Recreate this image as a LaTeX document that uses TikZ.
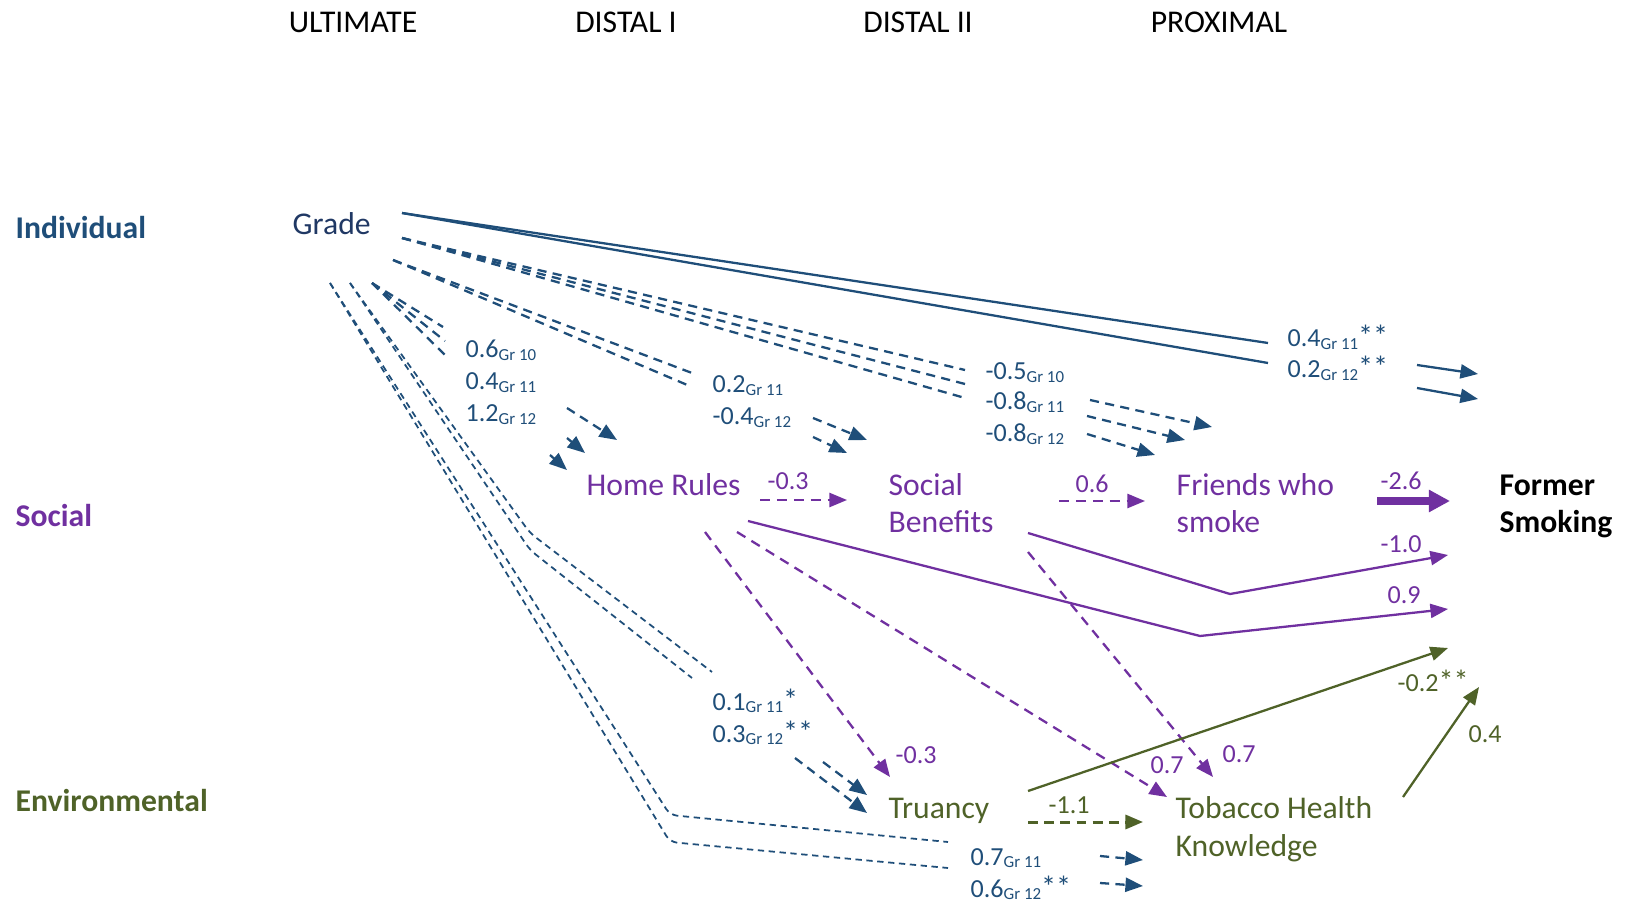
\documentclass[tikz,border=0pt]{standalone}
\usepackage{fontspec}
\setmainfont{Carlito}
\usetikzlibrary{arrows.meta}
\definecolor{indblue}{HTML}{1F4E79}
\definecolor{gradeblue}{HTML}{203864}
\definecolor{socpurple}{HTML}{7030A0}
\definecolor{envgreen}{HTML}{4F6228}
\begin{document}
\begin{tikzpicture}[x=0.01cm,y=-0.01cm,
	head/.style={anchor=base,inner sep=0pt,font=\fontsize{9}{11}\selectfont},
	row/.style={anchor=base west,inner sep=0pt,font=\fontsize{9}{11}\selectfont\bfseries},
	var/.style={anchor=base west,inner sep=0pt,align=left,font=\fontsize{9}{10.8}\selectfont},
	coef/.style={anchor=base west,inner sep=0pt,font=\fontsize{7.4}{9}\selectfont},
	tip/.style={-{Triangle[length=5pt,width=4pt]}},
	bsolid/.style={indblue,line width=0.65pt},
	bdash/.style={indblue,line width=0.65pt,dash pattern=on 2.6pt off 1.8pt},
	bthin/.style={indblue,line width=0.5pt,dash pattern=on 1.8pt off 1.3pt,rounded corners=2pt},
	psolid/.style={socpurple,line width=0.65pt},
	pdash/.style={socpurple,line width=0.65pt,dash pattern=on 2.8pt off 2pt},
	gsolid/.style={envgreen,line width=0.65pt},
	gdash/.style={envgreen,line width=0.85pt,dash pattern=on 2.8pt off 1.8pt}]
	\useasboundingbox (0,0) rectangle (1625,907);
	\def\gr#1{\raisebox{-0.8pt}{\fontsize{4.8}{5}\selectfont Gr #1}}
	\def\st#1{{\fontsize{8.6}{9}\selectfont #1}}
	
	%Columns
	\node[head] (ult) at (353,33) {ULTIMATE};
	\node[head] (dis1) at (626,33) {DISTAL I};
	\node[head] (dis2) at (918,33) {DISTAL II};
	\node[head] (prox) at (1219,33) {PROXIMAL};
	
	%Rows
	\node[row, indblue] (ind) at (15,239) {Individual};
	\node[row, socpurple] (soc) at (15,526) {Social};
	\node[row, envgreen] (env) at (15,811) {Environmental};
	
	%Variables (base is the last line)
	\node[var, gradeblue] (grade) at (292,235) {Grade};
	\node[var, socpurple] (home) at (586,495) {Home Rules};
	\node[var, socpurple] (ben) at (888,533) {Social\\Benefits};
	\node[var, socpurple] (friends) at (1176,533) {Friends who\\smoke};
	\node[var, font=\fontsize{9}{10.8}\selectfont\bfseries] (former) at (1499,533) {Former\\Smoking};
	\node[var, envgreen] (truancy) at (888,818) {Truancy};
	\node[var, envgreen] (thk) at (1175,856) {Tobacco Health\\Knowledge};
	
	%Grade to Former Smoking
	\coordinate (gf0) at (402,213);
	\coordinate (gf1) at (1268,343);
	\coordinate (gf2) at (1268,363);
	\draw[bsolid] (gf0) -- (gf1);
	\draw[bsolid] (gf0) -- (gf2);
	\node[coef, indblue] (cgf1) at (1287,347) {0.4\gr{11}\st{**}};
	\node[coef, indblue] (cgf2) at (1287,378) {0.2\gr{12}\st{**}};
	\coordinate (gf3) at (1417,365); \coordinate (gf4) at (1478,374);
	\coordinate (gf5) at (1417,388); \coordinate (gf6) at (1478,399);
	\draw[bsolid, tip] (gf3) -- (gf4);
	\draw[bsolid, tip] (gf5) -- (gf6);
	
	%Grade to Friends who smoke
	\coordinate (gw0) at (402,238);
	\coordinate (gw1) at (965,370);
	\coordinate (gw2) at (965,384);
	\coordinate (gw3) at (965,398);
	\draw[bdash] (gw0) -- (gw1);
	\draw[bdash] (gw0) -- (gw2);
	\draw[bdash] (gw0) -- (gw3);
	\node[coef, indblue] (cgw1) at (985,380) {-0.5\gr{10}};
	\node[coef, indblue] (cgw2) at (985,410) {-0.8\gr{11}};
	\node[coef, indblue] (cgw3) at (985,442) {-0.8\gr{12}};
	\coordinate (gw4) at (1090,400); \coordinate (gw5) at (1212,427);
	\coordinate (gw6) at (1087,416); \coordinate (gw7) at (1185,440);
	\coordinate (gw8) at (1087,434); \coordinate (gw9) at (1155,455);
	\draw[bdash, tip] (gw4) -- (gw5);
	\draw[bdash, tip] (gw6) -- (gw7);
	\draw[bdash, tip] (gw8) -- (gw9);
	
	%Grade to Social Benefits
	\coordinate (gb0) at (393,260);
	\coordinate (gb1) at (692,373);
	\coordinate (gb2) at (692,387);
	\draw[bdash] (gb0) -- (gb1);
	\draw[bdash] (gb0) -- (gb2);
	\node[coef, indblue] (cgb1) at (712,393) {0.2\gr{11}};
	\node[coef, indblue] (cgb2) at (712,425) {-0.4\gr{12}};
	\coordinate (gb3) at (813,418); \coordinate (gb4) at (867,440);
	\coordinate (gb5) at (813,437); \coordinate (gb6) at (847,453);
	\draw[bdash, tip] (gb3) -- (gb4);
	\draw[bdash, tip] (gb5) -- (gb6);
	
	%Grade to Home Rules
	\coordinate (gh0) at (372,283);
	\coordinate (gh1) at (443,327);
	\coordinate (gh2) at (445,341);
	\coordinate (gh3) at (445,355);
	\draw[bdash] (gh0) -- (gh1);
	\draw[bdash] (gh0) -- (gh2);
	\draw[bdash] (gh0) -- (gh3);
	\node[coef, indblue] (cgh1) at (465,358) {0.6\gr{10}};
	\node[coef, indblue] (cgh2) at (465,390) {0.4\gr{11}};
	\node[coef, indblue] (cgh3) at (465,422) {1.2\gr{12}};
	\coordinate (gh4) at (567,408); \coordinate (gh5) at (617,440);
	\coordinate (gh6) at (567,438); \coordinate (gh7) at (585,453);
	\coordinate (gh8) at (550,455); \coordinate (gh9) at (567,470);
	\draw[bdash, tip] (gh4) -- (gh5);
	\draw[bdash, tip] (gh6) -- (gh7);
	\draw[bdash, tip] (gh8) -- (gh9);
	
	%Grade to Truancy
	\coordinate (gt0) at (350,283);
	\coordinate (gt1) at (530,533); \coordinate (gt2) at (712,672);
	\coordinate (gt3) at (530,550); \coordinate (gt4) at (692,678);
	\draw[bthin] (gt0) -- (gt1) -- (gt2);
	\draw[bthin] (gt0) -- (gt3) -- (gt4);
	\node[coef, indblue] (cgt1) at (712,710) {0.1\gr{11}\st{*}};
	\node[coef, indblue] (cgt2) at (712,742) {0.3\gr{12}\st{**}};
	\coordinate (gt5) at (823,762); \coordinate (gt6) at (867,795);
	\coordinate (gt7) at (795,758); \coordinate (gt8) at (867,813);
	\draw[bdash, tip] (gt5) -- (gt6);
	\draw[bdash, tip] (gt7) -- (gt8);
	
	%Grade to Tobacco Health Knowledge
	\coordinate (gk0) at (330,283);
	\coordinate (gk1) at (670,815); \coordinate (gk2) at (948,842);
	\coordinate (gk3) at (670,842); \coordinate (gk4) at (948,868);
	\draw[bthin] (gk0) -- (gk1) -- (gk2);
	\draw[bthin] (gk0) -- (gk3) -- (gk4);
	\node[coef, indblue] (cgk1) at (970,865) {0.7\gr{11}};
	\node[coef, indblue] (cgk2) at (970,897) {0.6\gr{12}\st{**}};
	\coordinate (gk5) at (1100,856); \coordinate (gk6) at (1143,860);
	\coordinate (gk7) at (1100,883); \coordinate (gk8) at (1143,886);
	\draw[bdash, tip] (gk5) -- (gk6);
	\draw[bdash, tip] (gk7) -- (gk8);
	
	%Social paths
	\coordinate (hb0) at (760,500); \coordinate (hb1) at (847,500);
	\draw[pdash, tip] (hb0) -- (hb1);
	\node[coef, socpurple] (chb) at (767,490) {-0.3};
	\coordinate (bw0) at (1059,501); \coordinate (bw1) at (1145,501);
	\draw[pdash, tip] (bw0) -- (bw1);
	\node[coef, socpurple] (cbw) at (1075,493) {0.6};
	\coordinate (wf0) at (1377,501); \coordinate (wf1) at (1450,501);
	\draw[socpurple, line width=2pt, -{Triangle[length=6pt,width=6pt]}] (wf0) -- (wf1);
	\node[coef, socpurple] (cwf) at (1380,490) {-2.6};
	\coordinate (bf0) at (1028,533); \coordinate (bf1) at (1230,594); \coordinate (bf2) at (1448,555);
	\draw[psolid, tip] (bf0) -- (bf1) -- (bf2);
	\node[coef, socpurple] (cbf) at (1380,552) {-1.0};
	\coordinate (hf0) at (748,521); \coordinate (hf1) at (1200,636); \coordinate (hf2) at (1448,609);
	\draw[psolid, tip] (hf0) -- (hf1) -- (hf2);
	\node[coef, socpurple] (chf) at (1387,603) {0.9};
	\coordinate (ht0) at (705,532); \coordinate (ht1) at (890,777);
	\draw[pdash, tip] (ht0) -- (ht1);
	\node[coef, socpurple] (cht) at (895,763) {-0.3};
	\coordinate (hk0) at (737,532); \coordinate (hk1) at (1167,797);
	\draw[pdash, tip] (hk0) -- (hk1);
	\node[coef, socpurple] (chk) at (1150,773) {0.7};
	\coordinate (bk0) at (1028,552); \coordinate (bk1) at (1213,777);
	\draw[pdash, tip] (bk0) -- (bk1);
	\node[coef, socpurple] (cbk) at (1222,762) {0.7};
	
	%Environmental paths
	\coordinate (tf0) at (1028,791); \coordinate (tf1) at (1448,648);
	\draw[gsolid, tip] (tf0) -- (tf1);
	\node[coef, envgreen] (ctf) at (1397,691) {-0.2\st{**}};
	\coordinate (tk0) at (1028,822); \coordinate (tk1) at (1143,822);
	\draw[gdash, tip] (tk0) -- (tk1);
	\node[coef, envgreen] (ctk) at (1048,813) {-1.1};
	\coordinate (kf0) at (1403,797); \coordinate (kf1) at (1479,687);
	\draw[gsolid, tip] (kf0) -- (kf1);
	\node[coef, envgreen] (ckf) at (1468,742) {0.4};
\end{tikzpicture}
\end{document}
